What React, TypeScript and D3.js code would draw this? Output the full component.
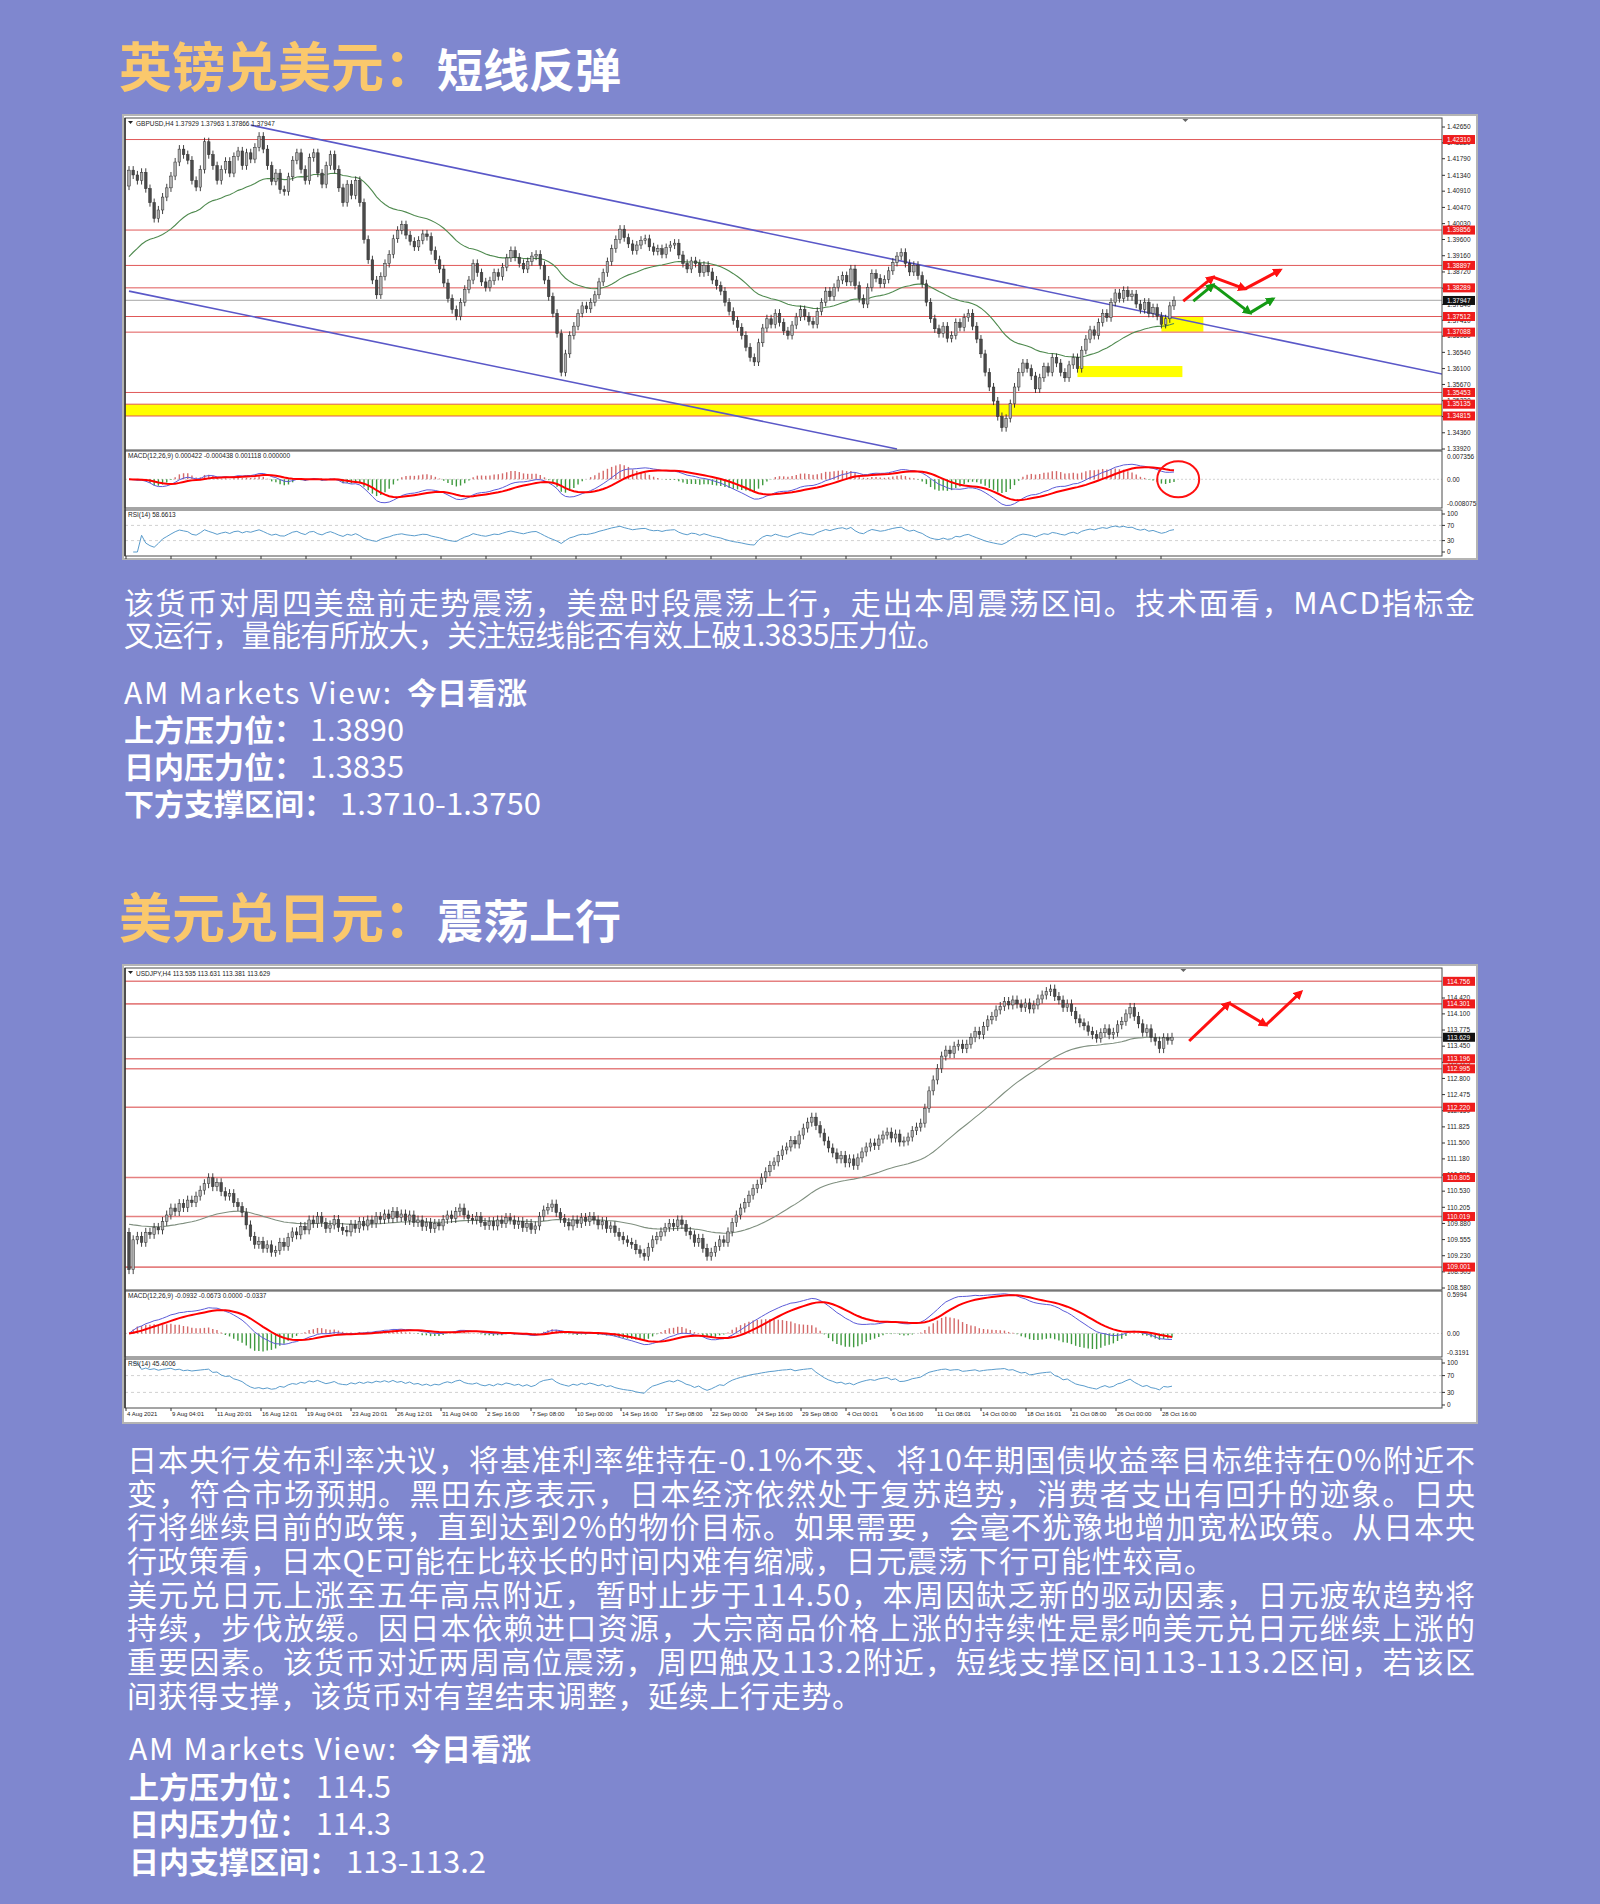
import React from 'react';
import * as d3 from 'd3';

// ===================== DATA =====================
// GBPUSD H4 closes
const gbpCloses = [
  1.4148, 1.4135, 1.4120, 1.4142, 1.4098, 1.4060, 1.4017, 1.4040, 1.4075, 1.4100,
  1.4132, 1.4170, 1.4205, 1.4190, 1.4175, 1.4120, 1.4102, 1.4150, 1.4225, 1.4190,
  1.4160, 1.4120, 1.4150, 1.4172, 1.4140, 1.4185, 1.4200, 1.4160, 1.4195, 1.4178,
  1.4210, 1.4240, 1.4205, 1.4160, 1.4118, 1.4140, 1.4095, 1.4090, 1.4130, 1.4175,
  1.4195, 1.4150, 1.4120, 1.4182, 1.4195, 1.4140, 1.4110, 1.4160, 1.4190, 1.4150,
  1.4100, 1.4060, 1.4110, 1.4080, 1.4120, 1.4060, 1.3960, 1.3905, 1.3850, 1.3810,
  1.3860, 1.3895, 1.3920, 1.3962, 1.3985, 1.4000, 1.3972, 1.3955, 1.3940, 1.3958,
  1.3975, 1.3968, 1.3930, 1.3905, 1.3880, 1.3842, 1.3800, 1.3770, 1.3752, 1.3790,
  1.3825, 1.3850, 1.3895, 1.3870, 1.3845, 1.3830, 1.3848, 1.3870, 1.3860, 1.3885,
  1.3910, 1.3930, 1.3912, 1.3895, 1.3880, 1.3900, 1.3915, 1.3920, 1.3890, 1.3850,
  1.3805, 1.3760, 1.3705, 1.3600, 1.3650, 1.3700, 1.3725, 1.3760, 1.3780, 1.3772,
  1.3790, 1.3810, 1.3845, 1.3870, 1.3900, 1.3935, 1.3960, 1.3988, 1.3965, 1.3948,
  1.3930, 1.3945, 1.3958, 1.3962, 1.3940, 1.3928, 1.3935, 1.3920, 1.3938, 1.3945,
  1.3950, 1.3918, 1.3895, 1.3880, 1.3902, 1.3895, 1.3870, 1.3890, 1.3872, 1.3850,
  1.3835, 1.3820, 1.3790, 1.3765, 1.3740, 1.3722, 1.3700, 1.3668, 1.3640, 1.3628,
  1.3680, 1.3720, 1.3745, 1.3730, 1.3760, 1.3735, 1.3712, 1.3700, 1.3728, 1.3750,
  1.3770, 1.3752, 1.3738, 1.3730, 1.3765, 1.3790, 1.3820, 1.3805, 1.3830, 1.3850,
  1.3862, 1.3845, 1.3880, 1.3835, 1.3800, 1.3785, 1.3830, 1.3868, 1.3855, 1.3840,
  1.3852, 1.3875, 1.3898, 1.3915, 1.3925, 1.3895, 1.3872, 1.3890, 1.3862, 1.3840,
  1.3790, 1.3745, 1.3718, 1.3705, 1.3725, 1.3692, 1.3700, 1.3735, 1.3722, 1.3748,
  1.3760, 1.3725, 1.3690, 1.3650, 1.3600, 1.3560, 1.3522, 1.3480, 1.3450, 1.3475,
  1.3515, 1.3560, 1.3600, 1.3625, 1.3610, 1.3590, 1.3555, 1.3585, 1.3615, 1.3600,
  1.3640, 1.3625, 1.3600, 1.3585, 1.3620, 1.3640, 1.3610, 1.3660, 1.3690, 1.3715,
  1.3700, 1.3735, 1.3760, 1.3748, 1.3790, 1.3815, 1.3800, 1.3822, 1.3805, 1.3812,
  1.3785, 1.3770, 1.3790, 1.3760, 1.3775, 1.3752, 1.3730, 1.3745, 1.3780, 1.3795,
];
const gbpFirstOpen = 1.4105;
const gbpWick = 0.0011;
const gbpMaSeed = 1.39;
const gbpDomain = [1.3392, 1.4265];
const gbpPriceTicks = ['1.42650', '1.42220', '1.41790', '1.41340', '1.40910', '1.40470', '1.40030', '1.39600', '1.39160', '1.38720', '1.38280', '1.37840', '1.37410', '1.36980', '1.36540', '1.36100', '1.35670', '1.35230', '1.34800', '1.34360', '1.33920'];
const gbpLevels = ['1.42310', '1.39856', '1.38897', '1.38289', '1.37512', '1.37088', '1.35453', '1.35135', '1.34815'];
const gbpLast = '1.37947';
const gbpHeader = 'GBPUSD,H4  1.37929 1.37963 1.37866 1.37947';
const gbpMacdHeader = 'MACD(12,26,9) 0.000422 -0.000438 0.001118 0.000000';
const gbpRsiHeader = 'RSI(14) 58.6613';
const gbpMacdTicks = ['0.007356', '0.00', '-0.008075'];
const gbpZones = [
  { i0: -10, i1: 400, p0: 1.35135, p1: 1.34815 },
  { i0: 246, i1: 256, p0: 1.3750, p1: 1.3710 },
  { i0: 226, i1: 251, p0: 1.3617, p1: 1.3587 },
];
const gbpTrendLines = [
  [{ i: 29, p: 1.4270 }, { i: 313, p: 1.3595 }],
  [{ i: 0, p: 1.3820 }, { i: 183, p: 1.3392 }],
];
const gbpArrowRed = [{ i: 251.2, p: 1.3793 }, { i: 258.3, p: 1.3858 }, { i: 265.9, p: 1.3826 }, { i: 274.3, p: 1.3877 }];
const gbpArrowGreen = [{ i: 253.6, p: 1.3793 }, { i: 258.3, p: 1.3837 }, { i: 267.1, p: 1.3761 }, { i: 272.6, p: 1.3799 }];

// USDJPY H4 closes
const jpyCloses = [
  108.95, 109.55, 109.62, 109.50, 109.70, 109.66, 109.80, 109.75, 109.92, 110.05,
  110.19, 110.12, 110.28, 110.20, 110.35, 110.30, 110.43, 110.55, 110.68, 110.80,
  110.62, 110.70, 110.52, 110.43, 110.48, 110.30, 110.22, 110.10, 109.85, 109.62,
  109.46, 109.52, 109.38, 109.45, 109.30, 109.34, 109.50, 109.42, 109.60, 109.71,
  109.65, 109.82, 109.75, 109.95, 109.88, 110.02, 109.90, 109.78, 109.85, 109.96,
  109.80, 109.74, 109.71, 109.86, 109.78, 109.92, 109.83, 109.95, 109.88, 110.02,
  109.96, 110.07, 109.98, 110.12, 110.00, 110.07, 109.94, 110.05, 109.90, 109.95,
  109.82, 109.90, 109.78, 109.88, 109.83, 109.96, 110.05, 109.98, 110.12, 110.19,
  110.05, 109.98, 109.95, 110.02, 109.90, 109.84, 109.92, 109.83, 109.95, 109.88,
  110.00, 109.95, 109.86, 109.92, 109.80, 109.88, 109.76, 109.83, 110.02, 110.15,
  110.20, 110.27, 110.10, 109.98, 109.90, 109.83, 109.95, 109.88, 110.00, 109.92,
  110.02, 109.95, 109.85, 109.92, 109.78, 109.83, 109.70, 109.62, 109.55, 109.50,
  109.46, 109.35, 109.28, 109.22, 109.40, 109.55, 109.62, 109.71, 109.80, 109.88,
  109.82, 109.95, 109.86, 109.72, 109.65, 109.50, 109.58, 109.38, 109.22, 109.30,
  109.42, 109.55, 109.50, 109.71, 109.90, 110.05, 110.19, 110.30, 110.45, 110.58,
  110.67, 110.80, 110.92, 111.05, 111.12, 111.25, 111.36, 111.42, 111.55, 111.48,
  111.66, 111.80, 111.92, 112.02, 111.85, 111.70, 111.54, 111.40, 111.30, 111.18,
  111.25, 111.10, 111.18, 111.05, 111.20, 111.32, 111.42, 111.50, 111.45, 111.58,
  111.66, 111.72, 111.60, 111.68, 111.52, 111.54, 111.62, 111.75, 111.82, 111.90,
  112.20, 112.55, 112.77, 113.00, 113.25, 113.37, 113.30, 113.45, 113.49, 113.40,
  113.49, 113.62, 113.75, 113.68, 113.85, 113.98, 114.05, 114.18, 114.25, 114.35,
  114.28, 114.38, 114.30, 114.23, 114.32, 114.20, 114.28, 114.40, 114.48, 114.55,
  114.60, 114.45, 114.38, 114.23, 114.30, 114.15, 114.00, 113.92, 113.86, 113.75,
  113.68, 113.61, 113.72, 113.80, 113.68, 113.73, 113.88, 113.95, 114.10, 114.23,
  114.05, 113.90, 113.73, 113.80, 113.62, 113.55, 113.40, 113.62, 113.57, 113.629,
];
const jpyFirstOpen = 109.70;
const jpyWick = 0.09;
const jpyMaSeed = 109.9;
const jpyDomain = [108.58, 114.42];
const jpyPriceTicks = ['114.420', '114.100', '113.775', '113.450', '113.125', '112.800', '112.475', '112.150', '111.825', '111.500', '111.180', '110.855', '110.530', '110.205', '109.880', '109.555', '109.230', '108.905', '108.580'];
const jpyLevels = ['114.756', '114.301', '113.196', '112.995', '112.220', '110.805', '110.019', '109.001'];
const jpyLast = '113.629';
const jpyHeader = 'USDJPY,H4  113.535 113.631 113.381 113.629';
const jpyMacdHeader = 'MACD(12,26,9) -0.0932 -0.0673 0.0000 -0.0337';
const jpyRsiHeader = 'RSI(14) 45.4006';
const jpyMacdTicks = ['0.5994', '0.00', '-0.3191'];
const jpyArrowRed = [{ i: 253.1, p: 113.554 }, { i: 262.6, p: 114.319 }, { i: 271.4, p: 113.876 }, { i: 279.8, p: 114.541 }];
const jpyDates = ['4 Aug 2021', '9 Aug 04:01', '11 Aug 20:01', '16 Aug 12:01', '19 Aug 04:01', '23 Aug 20:01', '26 Aug 12:01', '31 Aug 04:00', '2 Sep 16:00', '7 Sep 08:00', '10 Sep 00:00', '14 Sep 16:00', '17 Sep 08:00', '22 Sep 00:00', '24 Sep 16:00', '29 Sep 08:00', '4 Oct 00:01', '6 Oct 16:00', '11 Oct 08:01', '14 Oct 00:00', '18 Oct 16:01', '21 Oct 08:00', '26 Oct 00:00', '28 Oct 16:00'];

// Texts
const title1Gold = '英镑兑美元：';
const title1White = '短线反弹';
const title2Gold = '美元兑日元：';
const title2White = '震荡上行';
const para1 = [
  '该货币对周四美盘前走势震荡，美盘时段震荡上行，走出本周震荡区间。技术面看，MACD指标金',
  '叉运行，量能有所放大，关注短线能否有效上破1.3835压力位。',
];
const para2 = [
  '日本央行发布利率决议，将基准利率维持在-0.1%不变、将10年期国债收益率目标维持在0%附近不',
  '变，符合市场预期。黑田东彦表示，日本经济依然处于复苏趋势，消费者支出有回升的迹象。日央',
  '行将继续目前的政策，直到达到2%的物价目标。如果需要，会毫不犹豫地增加宽松政策。从日本央',
  '行政策看，日本QE可能在比较长的时间内难有缩减，日元震荡下行可能性较高。',
  '美元兑日元上涨至五年高点附近，暂时止步于114.50，本周因缺乏新的驱动因素，日元疲软趋势将',
  '持续，步伐放缓。因日本依赖进口资源，大宗商品价格上涨的持续性是影响美元兑日元继续上涨的',
  '重要因素。该货币对近两周高位震荡，周四触及113.2附近，短线支撑区间113-113.2区间，若该区',
  '间获得支撑，该货币对有望结束调整，延续上行走势。',
];
const viewLabel = 'AM Markets View:';
const viewCall = '今日看涨';
const gbpView = [
  { k: '上方压力位：', v: '1.3890' },
  { k: '日内压力位：', v: '1.3835' },
  { k: '下方支撑区间：', v: '1.3710-1.3750' },
];
const jpyView = [
  { k: '上方压力位：', v: '114.5' },
  { k: '日内压力位：', v: '114.3' },
  { k: '日内支撑区间：', v: '113-113.2' },
];

// ===================== LAYOUT / STYLE =====================
const BG = '#7f87cf';
const GOLD = '#fac86c';
const CJK = "'Noto Sans CJK SC', 'Noto Sans', sans-serif";
const SMALL = "'Liberation Sans', 'DejaVu Sans', sans-serif";

const LAY1 = {
  id: 'c1',
  frame: [123, 115, 1477, 559],
  plotL: 125, plotR: 1442,
  mainT: 118, mainB: 450,
  priceRange: [449, 127],
  macdT: 451, macdB: 508, macdTopY: 455, macdBotY: 506,
  rsiT: 510, rsiB: 556, rsi100: 514, rsi0: 552,
  barX0: 129, barX1: 1174,
  maPeriod: 36, maColor: '#4f8a4f',
  levelW: 1, levelColor: '#e05858',
  showDates: false,
};
const LAY2 = {
  id: 'c2',
  frame: [123, 965, 1477, 1423],
  plotL: 125, plotR: 1442,
  mainT: 968, mainB: 1290,
  priceRange: [1288, 998],
  macdT: 1291, macdB: 1357, macdTopY: 1293, macdBotY: 1355,
  rsiT: 1359, rsiB: 1408, rsi100: 1363, rsi0: 1405,
  barX0: 129, barX1: 1172,
  maPeriod: 50, maColor: '#7f8f7f',
  levelW: 1.6, levelColor: '#e58080',
  showDates: true,
};
const VIEW1 = { x: 124, y0: 704, gap: 37, labelW: 267, callX: 407, rows: [{ vx: 310, vw: 94 }, { vx: 310, vw: 94 }, { vx: 340, vw: 201 }] };
const VIEW2 = { x: 129, y0: 1760, gap: 37.5, labelW: 267, callX: 411, rows: [{ vx: 316, vw: 75 }, { vx: 316, vw: 75 }, { vx: 346, vw: 140 }] };

// ===================== HELPERS =====================
function ema(arr: number[], p: number, seed?: number) {
  const a = 2 / (p + 1);
  let e = seed ?? arr[0];
  return arr.map((v) => (e = e + a * (v - e)));
}
function rsiCalc(c: number[], n: number) {
  const out: number[] = [NaN];
  let g = 0, l = 0;
  for (let i = 1; i < c.length; i++) {
    const d = c[i] - c[i - 1];
    const up = d > 0 ? d : 0, dn = d < 0 ? -d : 0;
    if (i <= n) { g = (g * (i - 1) + up) / i; l = (l * (i - 1) + dn) / i; }
    else { g = (g * (n - 1) + up) / n; l = (l * (n - 1) + dn) / n; }
    out.push(l === 0 ? 100 : 100 - 100 / (1 + g / l));
  }
  return out;
}

function Chart({ cfg, lay }: any) {
  const closes: number[] = cfg.closes;
  const n = closes.length;
  const x = d3.scaleLinear().domain([0, n - 1]).range([lay.barX0, lay.barX1]);
  const y = d3.scaleLinear().domain(cfg.domain).range(lay.priceRange);
  const opens = closes.map((c, i) => (i === 0 ? cfg.firstOpen : closes[i - 1]));
  const ma = ema(closes, lay.maPeriod, cfg.maSeed);
  const e12 = ema(closes, 12), e26 = ema(closes, 26);
  const macd = e12.map((v, i) => v - e26[i]);
  const sig = ema(macd, 9);
  const hist = macd.map((v, i) => v - sig[i]);
  const tTop = +cfg.macdTicks[0], tBot = +cfg.macdTicks[2];
  const all = [...macd, ...sig];
  const k = Math.max(d3.max(all)! / tTop, d3.min(all)! / tBot) * 1.02;
  const ym = d3.scaleLinear().domain([tBot * k, tTop * k]).range([lay.macdBotY, lay.macdTopY]);
  const rsi = rsiCalc(closes, 14);
  const yr = d3.scaleLinear().domain([0, 100]).range([lay.rsi0, lay.rsi100]);

  const lineP = d3.line<number>().x((_, i) => x(i)).y((v) => y(v));
  const lineM = d3.line<number>().x((_, i) => x(i)).y((v) => ym(v));
  const lineR = d3.line<number>().defined((v) => !isNaN(v)).x((_, i) => x(i)).y((v) => yr(v));
  const segLine = d3.line<any>().x((d) => x(d.i)).y((d) => y(d.p));

  const [fx0, fy0, fx1, fy1] = lay.frame;
  const id = lay.id;
  const axX = lay.plotR + 5;
  const bodyW = 2.6;

  const dateX = d3.scaleLinear().domain([0, 23]).range([lay.barX0 - 3, lay.barX0 - 3 + 23 * 45.0]);

  const arrows = [
    { pts: cfg.arrowRed, color: '#ff1010', m: `${id}ar` },
    ...(cfg.arrowGreen ? [{ pts: cfg.arrowGreen, color: '#149a14', m: `${id}ag` }] : []),
  ];

  return (
    <g>
      <defs>
        <clipPath id={`${id}main`}><rect x={lay.plotL} y={lay.mainT} width={lay.plotR - lay.plotL} height={lay.mainB - lay.mainT} /></clipPath>
        <clipPath id={`${id}macd`}><rect x={lay.plotL} y={lay.macdT} width={lay.plotR - lay.plotL} height={lay.macdB - lay.macdT} /></clipPath>
        <clipPath id={`${id}rsi`}><rect x={lay.plotL} y={lay.rsiT} width={lay.plotR - lay.plotL} height={lay.rsiB - lay.rsiT} /></clipPath>
        <marker id={`${id}ar`} viewBox="0 0 10 10" refX="7" refY="5" markerWidth="3.2" markerHeight="3.2" orient="auto">
          <path d="M0,0 L10,5 L0,10 z" fill="#ff1010" />
        </marker>
        <marker id={`${id}ag`} viewBox="0 0 10 10" refX="7" refY="5" markerWidth="3.2" markerHeight="3.2" orient="auto">
          <path d="M0,0 L10,5 L0,10 z" fill="#149a14" />
        </marker>
      </defs>
      {/* frame */}
      <rect x={fx0} y={fy0} width={fx1 - fx0} height={fy1 - fy0} fill="#ffffff" stroke="#b4b4b4" strokeWidth={2} />
      {/* zones */}
      <g clipPath={`url(#${id}main)`}>
        {(cfg.zones || []).map((z: any, i: number) => (
          <rect key={i} x={x(z.i0)} y={y(z.p0)} width={x(z.i1) - x(z.i0)} height={y(z.p1) - y(z.p0)} fill="#ffff00" />
        ))}
        {/* current price line */}
        <line x1={lay.plotL} x2={lay.plotR} y1={y(+cfg.last)} y2={y(+cfg.last)} stroke="#b8b8b8" strokeWidth={1.3} />
        {cfg.levels.map((l: string, i: number) => (
          <line key={i} x1={lay.plotL} x2={lay.plotR} y1={y(+l)} y2={y(+l)} stroke={lay.levelColor} strokeWidth={lay.levelW} />
        ))}
        {(cfg.trends || []).map((t: any, i: number) => (
          <path key={i} d={segLine(t)!} stroke="#5a58c8" strokeWidth={1.6} fill="none" />
        ))}
        <path d={lineP(ma)!} fill="none" stroke={lay.maColor} strokeWidth={1.1} />
        {closes.map((c, i) => {
          const o = opens[i];
          const hi = Math.max(o, c) + cfg.wick, lo = Math.min(o, c) - cfg.wick;
          const top = y(Math.max(o, c)), bot = y(Math.min(o, c));
          return (
            <g key={i}>
              <line x1={x(i)} x2={x(i)} y1={y(hi)} y2={y(lo)} stroke="#2c2c2c" strokeWidth={0.9} />
              <rect x={x(i) - bodyW / 2} y={top} width={bodyW} height={Math.max(bot - top, 0.8)} fill={c >= o ? '#b0b0b0' : '#4a4a4a'} stroke="#2c2c2c" strokeWidth={0.5} />
            </g>
          );
        })}
        {arrows.map((a) =>
          a.pts.slice(1).map((p: any, j: number) => (
            <line key={a.m + j} x1={x(a.pts[j].i)} y1={y(a.pts[j].p)} x2={x(p.i)} y2={y(p.p)} stroke={a.color} strokeWidth={3} markerEnd={`url(#${a.m})`} />
          ))
        )}
      </g>
      {/* MACD */}
      <g clipPath={`url(#${id}macd)`}>
        <line x1={lay.plotL} x2={lay.plotR} y1={ym(0)} y2={ym(0)} stroke="#c8c8c8" strokeDasharray="2,2" strokeWidth={0.8} />
        {hist.map((h, i) => (
          <line key={i} x1={x(i)} x2={x(i)} y1={ym(0)} y2={ym(h * 1.6)} stroke={h >= 0 ? '#d46a6a' : '#3f9a3f'} strokeWidth={1.4} />
        ))}
        <path d={lineM(macd)!} fill="none" stroke="#5b5bd8" strokeWidth={1} />
        <path d={lineM(sig)!} fill="none" stroke="#ff0000" strokeWidth={2} />
      </g>
      {/* RSI */}
      <g clipPath={`url(#${id}rsi)`}>
        <line x1={lay.plotL} x2={lay.plotR} y1={yr(70)} y2={yr(70)} stroke="#c4c4c4" strokeDasharray="3,3" strokeWidth={0.8} />
        <line x1={lay.plotL} x2={lay.plotR} y1={yr(30)} y2={yr(30)} stroke="#c4c4c4" strokeDasharray="3,3" strokeWidth={0.8} />
        <path d={lineR(rsi)!} fill="none" stroke="#5a9ccc" strokeWidth={1} />
      </g>
      {cfg.circle && (
        <ellipse cx={x(cfg.circle.i)} cy={ym(0)} rx={21} ry={18} fill="none" stroke="#ff1010" strokeWidth={2} />
      )}
      {/* panel borders */}
      <g fill="none" stroke="#4a4a4a">
        <rect x={lay.plotL} y={lay.mainT} width={lay.plotR - lay.plotL} height={lay.mainB - lay.mainT} strokeWidth={1} />
        <rect x={lay.plotL} y={lay.macdT} width={lay.plotR - lay.plotL} height={lay.macdB - lay.macdT} strokeWidth={1} />
        <rect x={lay.plotL} y={lay.rsiT} width={lay.plotR - lay.plotL} height={lay.rsiB - lay.rsiT} strokeWidth={1} />
      </g>
      <line x1={lay.plotL} x2={lay.plotL} y1={lay.mainT} y2={lay.rsiB} stroke="#333" strokeWidth={1.5} />
      {/* price axis */}
      <g fontFamily={SMALL} fontSize={6.5} fill="#222">
        {cfg.ticks.map((t: string) => (
          <g key={t}>
            <line x1={lay.plotR} x2={lay.plotR + 3} y1={y(+t)} y2={y(+t)} stroke="#333" />
            <text x={axX} y={y(+t) + 2.3}>{t}</text>
          </g>
        ))}
        {cfg.levels.map((l: string) => (
          <g key={l}>
            <rect x={lay.plotR + 1} y={y(+l) - 4.5} width={32} height={9} fill="#ee1c1c" />
            <text x={axX} y={y(+l) + 2.3} fill="#fff">{l}</text>
          </g>
        ))}
        <rect x={lay.plotR + 1} y={y(+cfg.last) - 4.5} width={32} height={9} fill="#111" />
        <text x={axX} y={y(+cfg.last) + 2.3} fill="#fff">{cfg.last}</text>
        {/* MACD ticks */}
        <text x={axX} y={ym(tTop * k) + 4}>{cfg.macdTicks[0]}</text>
        <text x={axX} y={ym(0) + 2.3}>{cfg.macdTicks[1]}</text>
        <text x={axX} y={ym(tBot * k)}>{cfg.macdTicks[2]}</text>
        {[100, 70, 30, 0].map((v) => (
          <g key={v}>
            <line x1={lay.plotR} x2={lay.plotR + 3} y1={yr(v)} y2={yr(v)} stroke="#333" />
            <text x={axX} y={yr(v) + 2.3}>{v}</text>
          </g>
        ))}
      </g>
      {/* headers */}
      <g fontFamily={SMALL} fontSize={6.5} fill="#222">
        <path d={`M${lay.plotL + 3},${lay.mainT + 3} l5,0 l-2.5,3 z`} fill="#222" />
        <text x={lay.plotL + 11} y={lay.mainT + 7.5}>{cfg.header}</text>
        <text x={lay.plotL + 3} y={lay.macdT + 7}>{cfg.macdHeader}</text>
        <text x={lay.plotL + 3} y={lay.rsiT + 7}>{cfg.rsiHeader}</text>
      </g>
      <path d={`M${x(n + 1)},${lay.mainT + 1} l6,0 l-3,3 z`} fill="#666" />
      {/* time axis ticks */}
      {jpyDates.map((d, j) => (
        <line key={d} x1={dateX(j)} x2={dateX(j)} y1={lay.rsiB} y2={lay.rsiB + 3} stroke="#333" />
      ))}
      {lay.showDates && (
        <g fontFamily={SMALL} fontSize={6} fill="#222">
          {jpyDates.map((d, j) => (
            <text key={d} x={dateX(j) + 1} y={lay.rsiB + 8}>{d}</text>
          ))}
        </g>
      )}
    </g>
  );
}

function Title({ x, y, gold, white }: any) {
  return (
    <text x={x} y={y} fontFamily={CJK} fontWeight={700}>
      <tspan fill={GOLD} fontSize={53}>{gold}</tspan>
      <tspan fill="#fff" fontSize={46}>{white}</tspan>
    </text>
  );
}

function View({ lay, items }: any) {
  return (
    <g fontFamily={CJK} fill="#fff" fontSize={30}>
      <text x={lay.x} y={lay.y0} textLength={lay.labelW} lengthAdjust="spacing">{viewLabel}</text>
      <text x={lay.callX} y={lay.y0} fontWeight={700}>{viewCall}</text>
      {items.map((it: any, i: number) => (
        <g key={i}>
          <text x={lay.x} y={lay.y0 + (i + 1) * lay.gap} fontWeight={700}>{it.k}</text>
          <text x={lay.rows[i].vx} y={lay.y0 + (i + 1) * lay.gap} textLength={lay.rows[i].vw} lengthAdjust="spacingAndGlyphs">{it.v}</text>
        </g>
      ))}
    </g>
  );
}

export default function App() {
  const cfg1 = {
    closes: gbpCloses, firstOpen: gbpFirstOpen, wick: gbpWick, maSeed: gbpMaSeed, domain: gbpDomain,
    ticks: gbpPriceTicks, levels: gbpLevels, last: gbpLast, header: gbpHeader, macdHeader: gbpMacdHeader,
    rsiHeader: gbpRsiHeader, macdTicks: gbpMacdTicks, zones: gbpZones, trends: gbpTrendLines,
    arrowRed: gbpArrowRed, arrowGreen: gbpArrowGreen, circle: { i: 250 },
  };
  const cfg2 = {
    closes: jpyCloses, firstOpen: jpyFirstOpen, wick: jpyWick, maSeed: jpyMaSeed, domain: jpyDomain,
    ticks: jpyPriceTicks, levels: jpyLevels, last: jpyLast, header: jpyHeader, macdHeader: jpyMacdHeader,
    rsiHeader: jpyRsiHeader, macdTicks: jpyMacdTicks, arrowRed: jpyArrowRed,
  };
  const p1W = [1351, 823];
  const p2W = [1348, 1348, 1348, 1087, 1348, 1348, 1348, 735];
  const p2Y = [1471, 1505, 1538, 1572, 1606, 1639, 1673, 1707];
  return (
    <svg width={1600} height={1904} style={{ position: 'absolute', left: 0, top: 0, display: 'block' }}>
      <rect x={0} y={0} width={1600} height={1904} fill={BG} />
      <Title x={119} y={87} gold={title1Gold} white={title1White} />
      <Chart cfg={cfg1} lay={LAY1} />
      <g fontFamily={CJK} fill="#fff" fontSize={30}>
        {para1.map((t, i) => (
          <text key={i} x={124} y={614 + i * 32} textLength={p1W[i]} lengthAdjust="spacing">{t}</text>
        ))}
      </g>
      <View lay={VIEW1} items={gbpView} />
      <Title x={119} y={938} gold={title2Gold} white={title2White} />
      <Chart cfg={cfg2} lay={LAY2} />
      <g fontFamily={CJK} fill="#fff" fontSize={30}>
        {para2.map((t, i) => (
          <text key={i} x={127} y={p2Y[i]} textLength={p2W[i]} lengthAdjust="spacing">{t}</text>
        ))}
      </g>
      <View lay={VIEW2} items={jpyView} />
    </svg>
  );
}
